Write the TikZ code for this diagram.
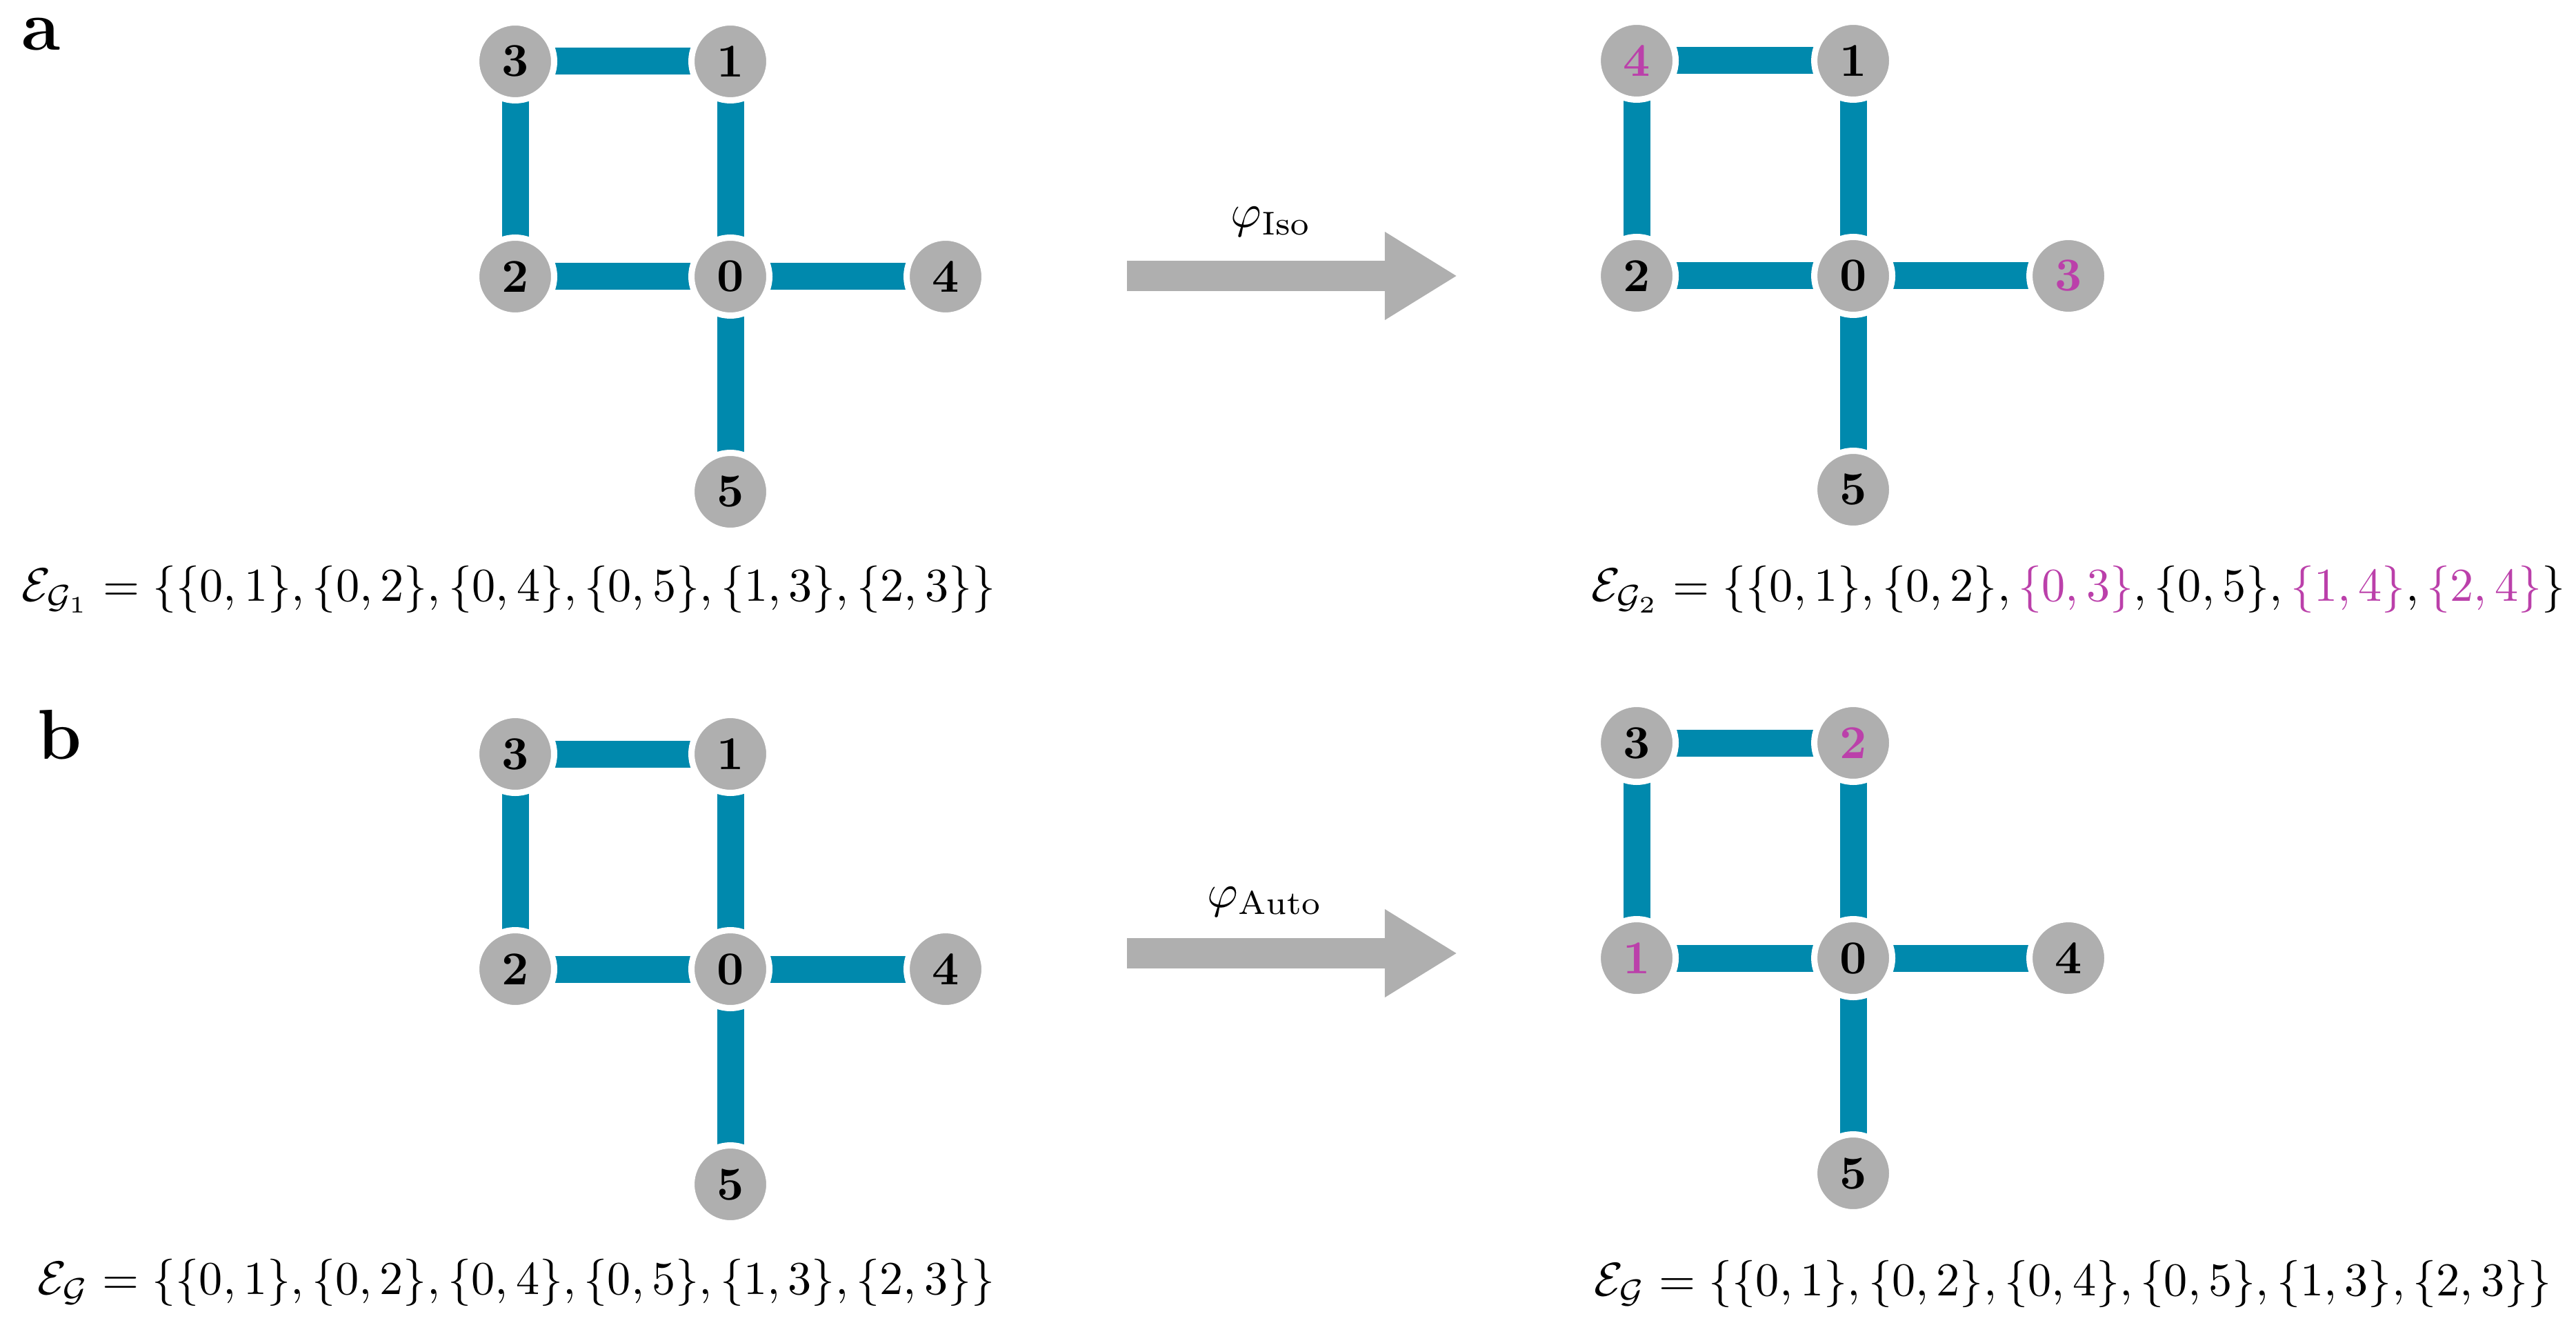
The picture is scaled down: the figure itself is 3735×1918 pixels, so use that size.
\documentclass[tikz,border=0pt]{standalone}
\usepackage{amsmath}
\usetikzlibrary{arrows.meta,backgrounds}
\definecolor{edgeteal}{RGB}{0,137,173}
\definecolor{nodegray}{RGB}{175,175,175}
\definecolor{mag}{RGB}{187,64,170}
\tikzset{
  vtx/.style={circle, fill=nodegray, draw=white, line width=1.32pt, minimum size=16.54pt, inner sep=0pt, font=\bfseries},
  edg/.style={draw=edgeteal, line width=5.71pt},
  maparrow/.style={draw=nodegray, line width=6.3pt, -{Triangle[length=15.4pt, width=17.6pt]}},
  eqn/.style={anchor=base west, inner sep=0pt},
  panel/.style={anchor=base west, inner sep=0pt, font=\fontsize{15}{18}\selectfont\bfseries}
}
\begin{document}
\begin{tikzpicture}[x=1pt/6.83, y=-1pt/6.83]
\useasboundingbox (0,0) rectangle (3735,1918);

% panel labels
\node[panel] (la) at (30,73) {a};
\node[panel] (lb) at (53,1100) {b};

% ---- panel a, left graph
\node[vtx] (a0) at (1059,401) {0};
\node[vtx] (a1) at (1059,89) {1};
\node[vtx] (a2) at (747,401) {2};
\node[vtx] (a3) at (747,89) {3};
\node[vtx] (a4) at (1371,401) {4};
\node[vtx] (a5) at (1059,713) {5};

% ---- panel a, right graph
\node[vtx] (b0) at (2687,400) {0};
\node[vtx] (b1) at (2687,88) {1};
\node[vtx] (b2) at (2373,400) {2};
\node[vtx, text=mag] (b4) at (2373,88) {4};
\node[vtx, text=mag] (b3) at (2999,400) {3};
\node[vtx] (b5) at (2687,710) {5};

% ---- panel b, left graph
\node[vtx] (c0) at (1059,1405) {0};
\node[vtx] (c1) at (1059,1093) {1};
\node[vtx] (c2) at (747,1405) {2};
\node[vtx] (c3) at (747,1093) {3};
\node[vtx] (c4) at (1371,1405) {4};
\node[vtx] (c5) at (1059,1717) {5};

% ---- panel b, right graph
\node[vtx] (d0) at (2687,1389) {0};
\node[vtx, text=mag] (d2) at (2687,1077) {2};
\node[vtx, text=mag] (d1) at (2373,1389) {1};
\node[vtx] (d3) at (2373,1077) {3};
\node[vtx] (d4) at (2999,1389) {4};
\node[vtx] (d5) at (2687,1701) {5};

% edges, center to center, behind the nodes
\begin{scope}[on background layer]
\foreach \u/\v in {a0/a1,a0/a2,a0/a4,a0/a5,a1/a3,a2/a3,
                   b0/b1,b0/b2,b0/b3,b0/b5,b1/b4,b2/b4,
                   c0/c1,c0/c2,c0/c4,c0/c5,c1/c3,c2/c3,
                   d0/d1,d0/d2,d0/d4,d0/d5,d1/d3,d2/d3}
  \draw[edg] (\u.center) -- (\v.center);
\end{scope}

% mapping arrows
\coordinate (pa1) at (1634,400);
\coordinate (pa2) at (2113,400);
\draw[maparrow] (pa1) -- (pa2);
\node[anchor=base, inner sep=0pt] (phiiso) at (1843,330) {$\varphi_{\mathrm{Iso}}$};
\coordinate (pb1) at (1634,1382);
\coordinate (pb2) at (2113,1382);
\draw[maparrow] (pb1) -- (pb2);
\node[anchor=base, inner sep=0pt] (phiauto) at (1834,1315) {$\varphi_{\mathrm{Auto}}$};

% edge sets
\node[eqn] (ea1) at (30,871) {$\mathcal{E}_{\mathcal{G}_1}=\{\{0,1\},\{0,2\},\{0,4\},\{0,5\},\{1,3\},\{2,3\}\}$};
\node[eqn] (ea2) at (2306,871) {$\mathcal{E}_{\mathcal{G}_2}=\{\{0,1\},\{0,2\},\textcolor{mag}{\{0,3\}},\{0,5\},\textcolor{mag}{\{1,4\}},\textcolor{mag}{\{2,4\}}\}$};
\node[eqn] (eb1) at (53,1876) {$\mathcal{E}_{\mathcal{G}}=\{\{0,1\},\{0,2\},\{0,4\},\{0,5\},\{1,3\},\{2,3\}\}$};
\node[eqn] (eb2) at (2310,1878) {$\mathcal{E}_{\mathcal{G}}=\{\{0,1\},\{0,2\},\{0,4\},\{0,5\},\{1,3\},\{2,3\}\}$};
\end{tikzpicture}
\end{document}
